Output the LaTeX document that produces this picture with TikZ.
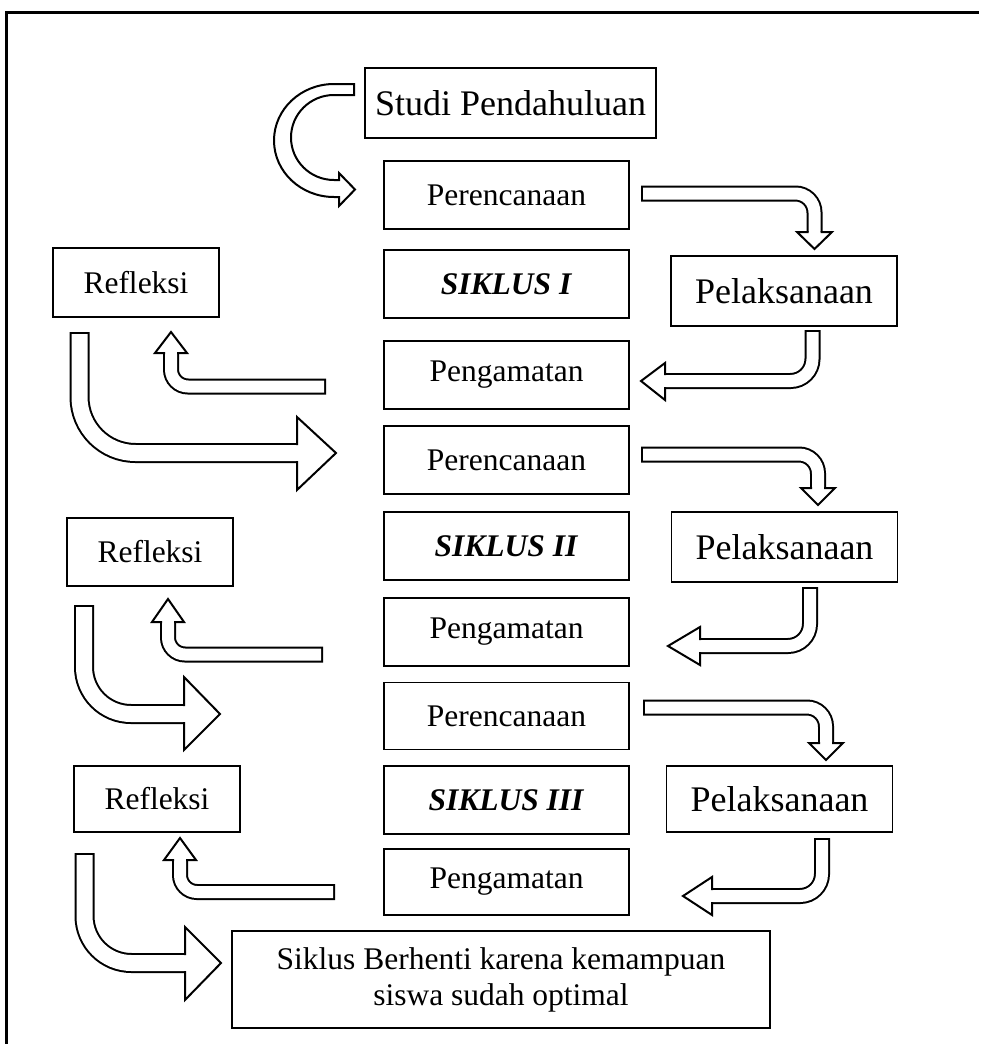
\documentclass[tikz,border=0pt]{standalone}
\usepackage{fontspec}
\setmainfont{Liberation Serif}
\usepackage{tikz}
\newcommand\stagefont{\fontsize{31.5}{36}\selectfont}
\newcommand\largestagefont{\fontsize{36}{40}\selectfont}
\tikzset{
  stagebox/.style={draw, line width=1.2pt, inner sep=0pt, align=center, font=\stagefont,
    minimum width=245pt, minimum height=68pt},
  sidebox/.style={stagebox, font=\largestagefont, minimum width=226pt, minimum height=70pt},
  refbox/.style={stagebox, minimum width=166pt, minimum height=69pt},
  band/.style={line width=2pt, double=white, double distance=#1, line cap=rect},
  band/.default=12pt,
  bandhead/.style={draw, fill=white, line width=2pt, line join=miter, line cap=rect},
  frameline/.style={line width=3pt}
}

\begin{document}
\begin{tikzpicture}[x=1pt, y=-1pt]
  \useasboundingbox (0,0) rectangle (980,1044);
  \draw[frameline] (6,1050) -- (6,12) -- (979,12);

  \node[stagebox, font=\largestagefont, minimum width=291pt, minimum height=70pt] (studi) at (510.5,103) {Studi Pendahuluan};
  \node[stagebox] (plan1) at (506.5,195) {Perencanaan};
  \node[stagebox] (cycle1) at (506.5,284) {\textbf{\textit{SIKLUS I}}};
  \node[stagebox] (observe1) at (506.5,375) {Pengamatan};
  \node[stagebox] (plan2) at (506.5,460) {Perencanaan};
  \node[stagebox] (cycle2) at (506.5,546) {\textbf{\textit{SIKLUS II}}};
  \node[stagebox] (observe2) at (506.5,632) {Pengamatan};
  \node[stagebox, minimum height=67pt] (plan3) at (506.5,716) {Perencanaan};
  \node[stagebox] (cycle3) at (506.5,800) {\textbf{\textit{SIKLUS III}}};
  \node[stagebox, minimum height=66pt] (observe3) at (506.5,882) {Pengamatan};
  \node[stagebox, minimum width=538pt, minimum height=97pt] (stop) at (501,979.5)
    {Siklus Berhenti karena kemampuan\\siswa sudah optimal};

  \node[sidebox] (act1) at (784,291) {Pelaksanaan};
  \node[sidebox] (act2) at (784.5,547) {Pelaksanaan};
  \node[sidebox, minimum height=66pt] (act3) at (779.5,799) {Pelaksanaan};

  \node[refbox] (reflect1) at (136,282.5) {Refleksi};
  \node[refbox, minimum height=68pt] (reflect2) at (150,552) {Refleksi};
  \node[refbox, minimum height=66pt] (reflect3) at (157,799) {Refleksi};

  \draw[bandhead] (354,84) -- (334,84) arc[start angle=270, end angle=90, x radius=60, y radius=56.5]
    -- (339,197) -- (339,206) -- (355,189.5) -- (339,173) -- (339,180) -- (334,180)
    arc[start angle=90, end angle=270, x radius=43, y radius=42.5] -- (354,95) -- cycle;

  \draw[band, rounded corners=19pt] (649,193.5) -- (814.5,193.5) -- (814.5,229);
  \draw[bandhead] (807.5,232) -- (797,232) -- (814.5,249) -- (832,232) -- (821.5,232);
  \draw[band, rounded corners=22pt] (812.5,338) -- (812.5,381) -- (668,381);
  \draw[bandhead] (665,374) -- (665,363) -- (641,381) -- (665,400) -- (665,388);
  \draw[band, rounded corners=17pt] (318,386.5) -- (171,386.5) -- (171,356);
  \draw[bandhead] (164,353) -- (155,353) -- (171,332) -- (187,353) -- (178,353);
  \draw[band=16pt, rounded corners=56pt] (79.5,342) -- (79.5,453) -- (294,453);
  \draw[bandhead] (297,444) -- (297,417) -- (336,453) -- (297,490) -- (297,462);

  \draw[band, rounded corners=19pt] (649,454.5) -- (818,454.5) -- (818,485);
  \draw[bandhead] (811,488) -- (801,488) -- (818,505) -- (835,488) -- (825,488);
  \draw[band, rounded corners=22pt] (810,595) -- (810,646) -- (703,646);
  \draw[bandhead] (700,639) -- (700,627) -- (668,646) -- (700,665) -- (700,653);
  \draw[band, rounded corners=17pt] (315,654.5) -- (168,654.5) -- (168,625);
  \draw[bandhead] (161,622) -- (152,622) -- (168,599) -- (184,622) -- (175,622);
  \draw[band=16pt, rounded corners=47pt] (84,615) -- (84,714) -- (181,714);
  \draw[bandhead] (184,705) -- (184,677) -- (220,714) -- (184,750) -- (184,723);

  \draw[band, rounded corners=19pt] (651,707.5) -- (826,707.5) -- (826,740);
  \draw[bandhead] (819,743) -- (809,743) -- (826,760) -- (843,743) -- (833,743);
  \draw[band, rounded corners=22pt] (822,846) -- (822,896) -- (715,896);
  \draw[bandhead] (712,889) -- (712,877) -- (683,896) -- (712,915) -- (712,903);
  \draw[band, rounded corners=17pt] (327,892) -- (180,892) -- (180,863);
  \draw[bandhead] (173,860) -- (164,860) -- (180,838) -- (196,860) -- (187,860);
  \draw[band=16pt, rounded corners=47pt] (84.5,863) -- (84.5,963) -- (182,963);
  \draw[bandhead] (185,954) -- (185,927) -- (221,963) -- (185,1000) -- (185,972);
\end{tikzpicture}
\end{document}
